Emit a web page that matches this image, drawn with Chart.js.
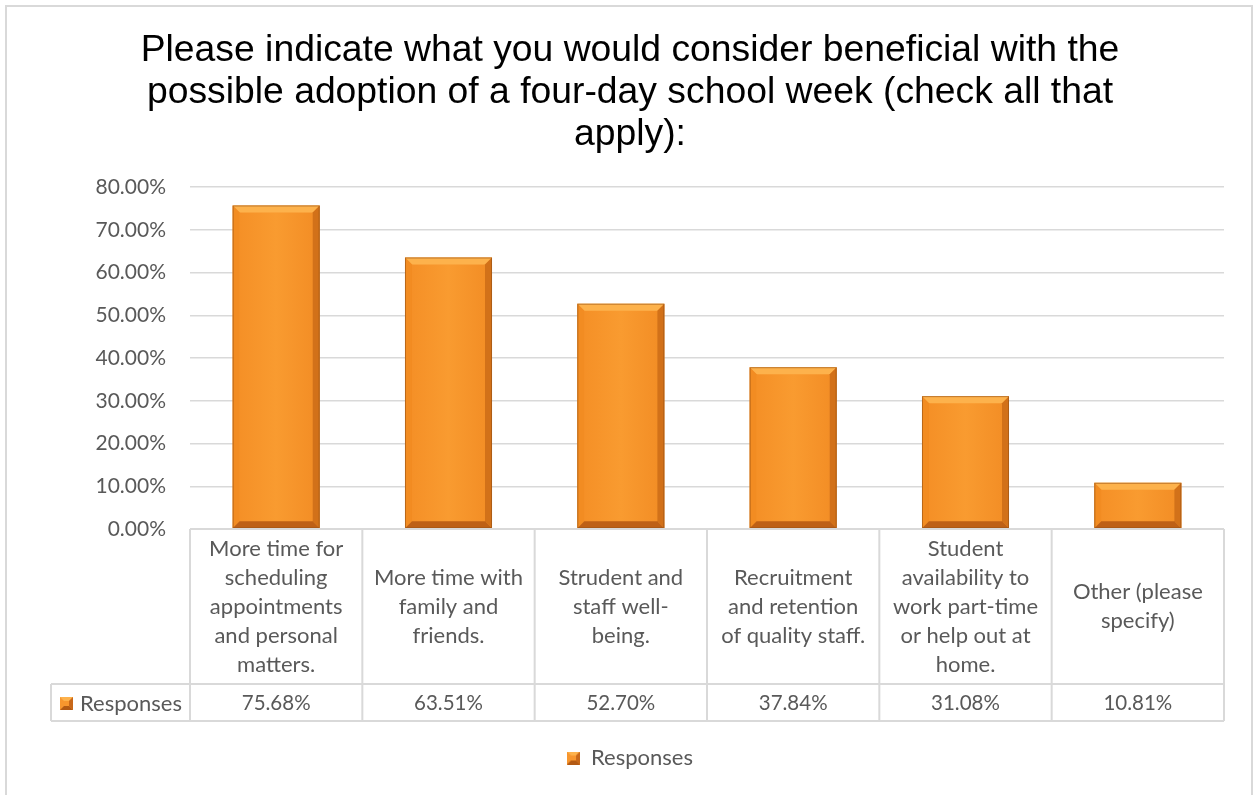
<!DOCTYPE html>
<html>
<head>
<meta charset="utf-8">
<script src="https://cdn.jsdelivr.net/npm/chart.js@4.4.0/dist/chart.umd.min.js"></script>
<style>
  html, body { margin: 0; padding: 0; background: #fff; }
  #wrap { width: 1255px; height: 795px; }
</style>
</head>
<body>
<div id="wrap"><canvas id="chart" width="1255" height="795"></canvas></div>
<script>
// data
const titleLines = [
  'Please indicate what you would consider beneficial with the',
  'possible adoption of a four-day school week (check all that',
  'apply):'
];
const categories = [
  ['More time for', 'scheduling', 'appointments', 'and personal', 'matters.'],
  ['More time with', 'family and', 'friends.'],
  ['Strudent and', 'staff well-', 'being.'],
  ['Recruitment', 'and retention', 'of quality staff.'],
  ['Student', 'availability to', 'work part-time', 'or help out at', 'home.'],
  ['Other (please', 'specify)']
];
const seriesName = 'Responses';
const responses = [75.68, 63.51, 52.70, 37.84, 31.08, 10.81];
const yMin = 0, yMax = 80, yStep = 10;

const gridColor = '#D9D9D9';
const textColor = '#595959';
const bodyFont = 'Lato, "Noto Sans", sans-serif';
const fmt = v => Number(v).toFixed(2) + '%';

// small bevelled square used as series key
function makeKey() {
  const c = document.createElement('canvas');
  c.width = 13; c.height = 13;
  const k = c.getContext('2d');
  k.fillStyle = '#F7962E'; k.fillRect(0, 0, 13, 13);
  k.fillStyle = '#FDB24C';
  k.beginPath(); k.moveTo(0, 0); k.lineTo(13, 0); k.lineTo(9, 4); k.lineTo(4, 4); k.closePath(); k.fill();
  k.fillStyle = '#C8681A';
  k.beginPath(); k.moveTo(13, 0); k.lineTo(13, 13); k.lineTo(9, 9); k.lineTo(9, 4); k.closePath(); k.fill();
  k.fillStyle = '#B35A14';
  k.beginPath(); k.moveTo(0, 13); k.lineTo(13, 13); k.lineTo(9, 9); k.lineTo(4, 9); k.closePath(); k.fill();
  return c;
}
const keyIcon = makeKey();

// white background + outer frame
const framePlugin = {
  id: 'frame',
  beforeDraw(chart) {
    const ctx = chart.ctx;
    ctx.save();
    ctx.fillStyle = '#fff';
    ctx.fillRect(0, 0, chart.width, chart.height);
    ctx.strokeStyle = gridColor;
    ctx.lineWidth = 2;
    ctx.strokeRect(6, 6, chart.width - 9, chart.height + 20);
    ctx.restore();
  }
};

// bevel look on each bar
const bevelPlugin = {
  id: 'bevel',
  afterDatasetsDraw(chart) {
    const ctx = chart.ctx;
    chart.getDatasetMeta(0).data.forEach(bar => {
      const p = bar.getProps(['x', 'y', 'base', 'width'], true);
      const l = p.x - p.width / 2, r = p.x + p.width / 2;
      const t = p.y, b = p.base;
      const d = Math.min(7, (b - t) / 2);
      ctx.save();
      const body = ctx.createLinearGradient(l, 0, r, 0);
      body.addColorStop(0, '#F48E25');
      body.addColorStop(0.5, '#F99B30');
      body.addColorStop(1, '#F28C24');
      ctx.fillStyle = body;
      ctx.fillRect(l + d, t + d, p.width - 2 * d, b - t - 2 * d);
      // top
      ctx.fillStyle = '#FDB24C';
      ctx.beginPath();
      ctx.moveTo(l, t); ctx.lineTo(r, t); ctx.lineTo(r - d, t + d); ctx.lineTo(l + d, t + d);
      ctx.closePath(); ctx.fill();
      // left
      ctx.fillStyle = '#F28C22';
      ctx.beginPath();
      ctx.moveTo(l, t); ctx.lineTo(l + d, t + d); ctx.lineTo(l + d, b - d); ctx.lineTo(l, b);
      ctx.closePath(); ctx.fill();
      // right
      ctx.fillStyle = '#D27119';
      ctx.beginPath();
      ctx.moveTo(r, t); ctx.lineTo(r - d, t + d); ctx.lineTo(r - d, b - d); ctx.lineTo(r, b);
      ctx.closePath(); ctx.fill();
      // bottom
      ctx.fillStyle = '#BE6016';
      ctx.beginPath();
      ctx.moveTo(l, b); ctx.lineTo(l + d, b - d); ctx.lineTo(r - d, b - d); ctx.lineTo(r, b);
      ctx.closePath(); ctx.fill();
      ctx.strokeStyle = 'rgba(150,80,20,0.6)';
      ctx.lineWidth = 1;
      ctx.strokeRect(l + 0.5, t + 0.5, p.width - 1, b - t - 1);
      ctx.restore();
    });
  }
};

// data table under the plot
const tablePlugin = {
  id: 'dataTable',
  afterDraw(chart) {
    const ctx = chart.ctx;
    const xs = chart.scales.x;
    const area = chart.chartArea;
    const half = (xs.getPixelForValue(1) - xs.getPixelForValue(0)) / 2;
    const top = area.bottom;
    const mid = top + 155;
    const bottom = mid + 37;
    const headLeft = 51;
    const lineH = 29;

    ctx.save();
    ctx.strokeStyle = gridColor;
    ctx.lineWidth = 2;
    ctx.beginPath();
    ctx.moveTo(area.left, top); ctx.lineTo(area.right, top);
    ctx.moveTo(headLeft, mid); ctx.lineTo(area.right, mid);
    ctx.moveTo(headLeft, bottom); ctx.lineTo(area.right, bottom);
    ctx.moveTo(headLeft, mid); ctx.lineTo(headLeft, bottom);
    categories.forEach((c, i) => {
      const lx = xs.getPixelForValue(i) - half;
      ctx.moveTo(lx, top); ctx.lineTo(lx, bottom);
    });
    ctx.moveTo(area.right, top); ctx.lineTo(area.right, bottom);
    ctx.stroke();

    ctx.fillStyle = textColor;
    ctx.textAlign = 'center';
    ctx.textBaseline = 'middle';
    const cellMid = (top + mid) / 2;
    categories.forEach((lines, i) => {
      const cx = xs.getPixelForValue(i);
      const y0 = cellMid - (lines.length - 1) * lineH / 2;
      ctx.font = '22px ' + bodyFont;
      lines.forEach((s, k) => ctx.fillText(s, cx, y0 + k * lineH));
      ctx.font = '20.5px ' + bodyFont;
      ctx.fillText(fmt(responses[i]), cx, (mid + bottom) / 2 + 1);
    });

    // series key in the header cell
    const ky = (mid + bottom) / 2;
    ctx.drawImage(keyIcon, 60, Math.round(ky - 6));
    ctx.fillStyle = textColor;
    ctx.textAlign = 'left';
    ctx.font = '22px ' + bodyFont;
    ctx.fillText(seriesName, 80, ky + 1);
    ctx.restore();
  }
};

new Chart(document.getElementById('chart'), {
  type: 'bar',
  data: {
    labels: categories,
    datasets: [{
      label: seriesName,
      data: responses,
      backgroundColor: '#F7962E',
      borderWidth: 0,
      categoryPercentage: 1,
      barPercentage: 0.505
    }]
  },
  options: {
    responsive: false,
    animation: false,
    layout: { padding: { left: 36, right: 31, top: 0, bottom: 16 } },
    scales: {
      x: {
        grid: { display: false },
        border: { display: false },
        ticks: { display: false },
        afterFit(s) { s.height = 192; }
      },
      y: {
        min: yMin,
        max: yMax,
        ticks: {
          stepSize: yStep,
          padding: 24,
          color: textColor,
          font: { family: bodyFont, size: 21 },
          callback: v => fmt(v)
        },
        grid: { color: gridColor, lineWidth: 1.5, drawTicks: false },
        border: { display: false },
        afterFit(s) { s.width = 154; }
      }
    },
    plugins: {
      title: {
        display: true,
        text: titleLines,
        color: '#000',
        font: { family: '"Liberation Sans", Arial, sans-serif', size: 37.3, weight: 'normal', lineHeight: 42 / 37.3 },
        padding: { top: 30, bottom: 31 }
      },
      legend: {
        position: 'bottom',
        labels: {
          usePointStyle: true,
          pointStyle: keyIcon,
          boxWidth: 13,
          boxHeight: 13,
          padding: 26,
          color: textColor,
          font: { family: bodyFont, size: 22 }
        }
      },
      tooltip: { enabled: false }
    }
  },
  plugins: [framePlugin, bevelPlugin, tablePlugin]
});
</script>
</body>
</html>
